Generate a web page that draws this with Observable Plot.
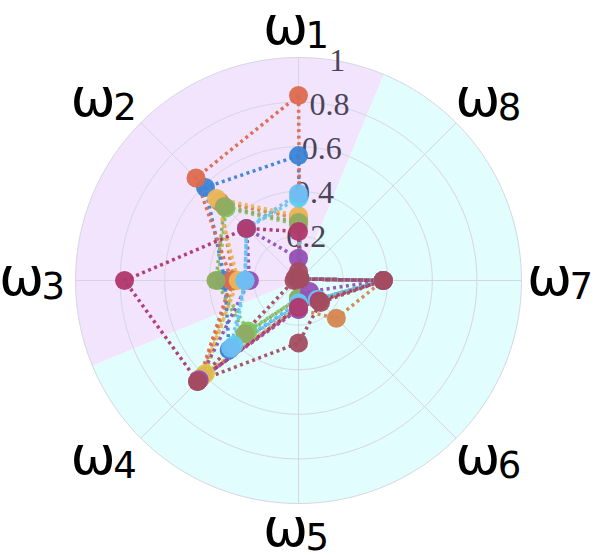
<!DOCTYPE html>
<html><head><meta charset="utf-8">
<script src="https://cdn.jsdelivr.net/npm/d3@7"></script>
<script src="https://cdn.jsdelivr.net/npm/@observablehq/plot@0.6"></script>
<style>html,body{margin:0;padding:0;background:#fff}#chart svg{display:block}</style>
</head><body><div id="chart"></div>
<script>
// ---- data ----
const axisLabels = ["ω1","ω2","ω3","ω4","ω5","ω6","ω7","ω8"];
const axisAngles = [90, 135, 180, 225, 270, 315, 360, 405];
const radialTicks = [0, 0.2, 0.4, 0.6, 0.8, 1];
const radialTickLabels = ["0", "0.2", "0.4", "0.6", "0.8", "1"];
const sectorStart = [67.5, 202.5];
const sectorEnd = [202.5, 427.5];
const sectorColors = ["#f1e4fc", "#e2fdfd"];
// series in drawing order (first = bottom)
const seriesColors = ["#dcc24c","#d4864f","#7fc55e","#3b83d5","#dd6a4f","#eab65b",
                      "#8fab63","#9350b5","#5ccff0","#70bcf2","#b0376b","#a34c60"];
const seriesValues = [
  [0.28, 0.50, 0.28, 0.59, 0.12, 0.13, 0.38, 0.01],
  [0.28, 0.50, 0.29, 0.62, 0.13, 0.24, 0.38, 0.01],
  [0.25, 0.46, 0.36, 0.32, 0.08, 0.12, 0.38, 0.01],
  [0.56, 0.59, 0.33, 0.44, 0.10, 0.12, 0.38, 0.01],
  [0.83, 0.65, 0.30, 0.63, 0.12, 0.13, 0.38, 0.01],
  [0.29, 0.52, 0.27, 0.62, 0.12, 0.13, 0.38, 0.01],
  [0.26, 0.47, 0.37, 0.34, 0.08, 0.12, 0.38, 0.01],
  [0.10, 0.33, 0.22, 0.63, 0.13, 0.07, 0.38, 0.01],
  [0.37, 0.33, 0.24, 0.41, 0.10, 0.12, 0.38, 0.01],
  [0.39, 0.33, 0.24, 0.43, 0.11, 0.12, 0.38, 0.01],
  [0.22, 0.33, 0.78, 0.64, 0.12, 0.13, 0.38, 0.01],
  [0.04, 0.02, 0.02, 0.64, 0.28, 0.14, 0.38, 0.01]
];

// ---- helpers ----
const rad = a => a * Math.PI / 180;
const px = (r, a) => r * Math.cos(rad(a));
const py = (r, a) => r * Math.sin(rad(a));

const sectorPolys = sectorStart.map((s, i) => {
  const pts = [{r: 0, a: s}];
  for (let a = s; a <= sectorEnd[i]; a += 0.5) pts.push({r: 1, a});
  pts.push({r: 1, a: sectorEnd[i]}, {r: 0, a: s});
  return pts;
});
const circlePts = radialTicks.filter(t => t > 0).flatMap(t =>
  d3.range(0, 361, 1).map(a => ({r: t, a})));

const seriesPts = seriesValues.map(vals => vals.map((v, k) => ({r: v, a: axisAngles[k]})));
// label anchor (data units; 1 = outer circle, 223px)
const diag = a => Math.abs(Math.sin(rad(2 * a)));
const labelX = a => Math.cos(rad(a)) * (264 + 8 * diag(a)) / 223;
const labelY = a => Math.sin(rad(a)) * (251 + 2 * diag(a)) / 223;

const marks = [];
sectorPolys.forEach((pts, i) => marks.push(
  Plot.line(pts, {x: d => px(d.r, d.a), y: d => py(d.r, d.a), fill: sectorColors[i], stroke: "none", curve: "linear"})));
marks.push(Plot.line(circlePts, {x: d => px(d.r, d.a), y: d => py(d.r, d.a), z: "r",
  stroke: "#d6d6e2", strokeWidth: 1}));
marks.push(Plot.link(axisAngles, {x1: () => 0, y1: () => 0, x2: a => px(1, a), y2: a => py(1, a),
  stroke: "#d6d6e2", strokeWidth: 1}));
marks.push(Plot.text(radialTicks, {x: r => px(r, 80), y: r => py(r, 80), text: (d, i) => radialTickLabels[i],
  fontSize: 32, fontFamily: "Liberation Serif, DejaVu Serif, serif", fill: "#4b4458", textAnchor: "middle"}));
seriesPts.forEach((pts, i) => marks.push(
  Plot.line([...pts, pts[0]], {x: d => px(d.r, d.a), y: d => py(d.r, d.a), stroke: seriesColors[i],
    strokeWidth: 3.5, strokeDasharray: "3,3.5", strokeLinecap: "butt", strokeOpacity: 0.95})));
seriesPts.forEach((pts, i) => marks.push(
  Plot.dot(pts, {x: d => px(d.r, d.a), y: d => py(d.r, d.a), r: 9.5, fill: seriesColors[i], stroke: "none", fillOpacity: 0.95})));
marks.push(Plot.text(axisAngles, {x: labelX, y: labelY, text: (d, i) => axisLabels[i].slice(0, 1),
  dx: -13, dy: -3, fontSize: 54, fontFamily: "DejaVu Sans", fill: "#000", textAnchor: "middle"}));
marks.push(Plot.text(axisAngles, {x: labelX, y: labelY, text: (d, i) => axisLabels[i].slice(1),
  dx: 7, dy: 7, fontSize: 37, fontFamily: "DejaVu Sans", fill: "#000", textAnchor: "start"}));

const chart = Plot.plot({
  width: 598, height: 555,
  marginLeft: 75, marginRight: 77, marginTop: 57, marginBottom: 52,
  x: {domain: [-1, 1], axis: null},
  y: {domain: [-1, 1], axis: null},
  style: {background: "white", overflow: "visible"},
  marks
});
document.getElementById("chart").appendChild(chart);
</script>
</body></html>
